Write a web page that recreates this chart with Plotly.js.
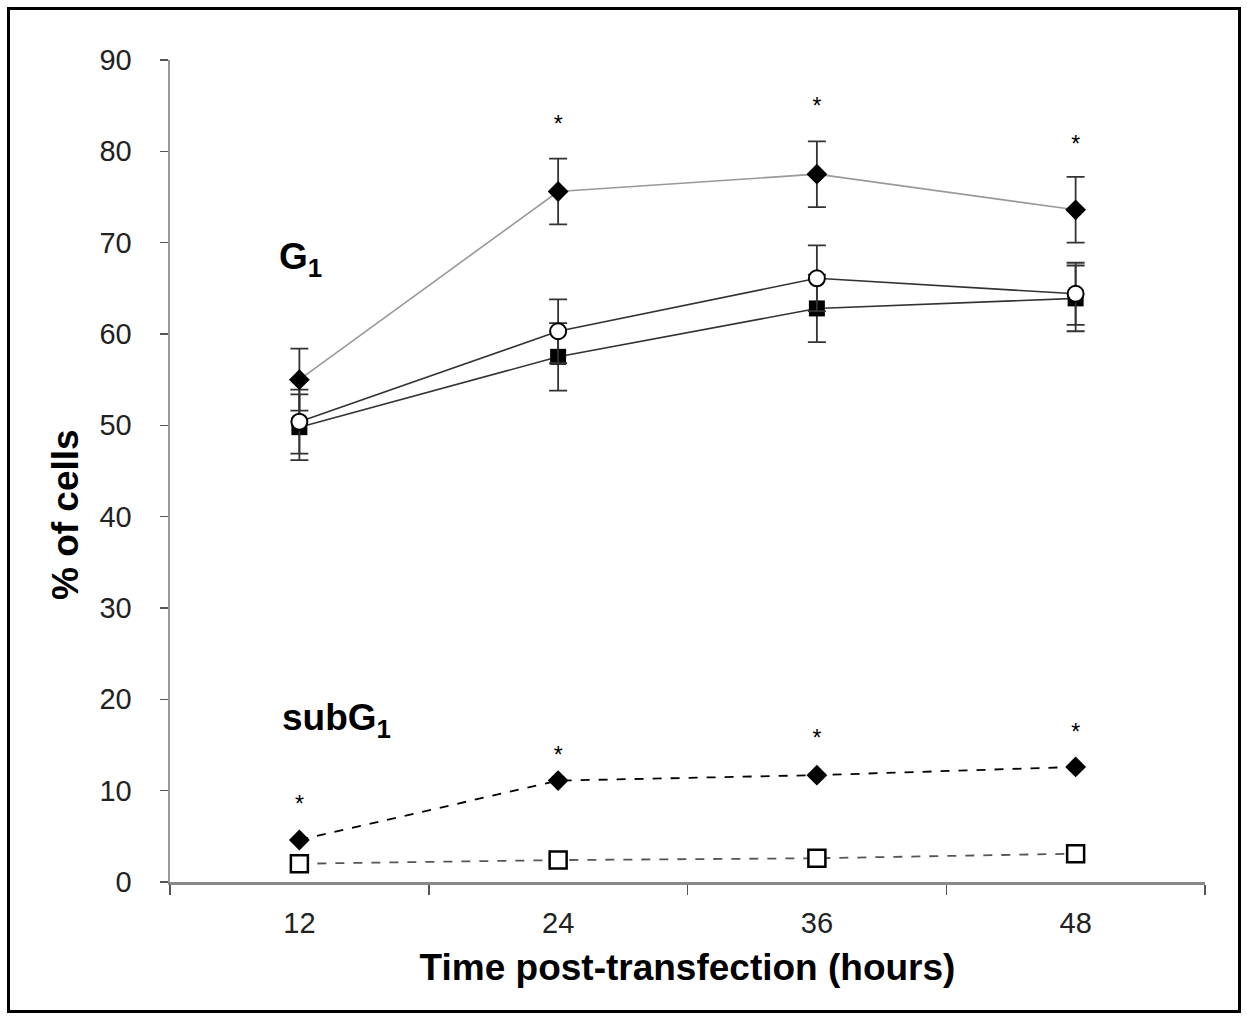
<!DOCTYPE html>
<html><head><meta charset="utf-8">
<script src="https://cdn.plot.ly/plotly-3.0.1.min.js"></script>
<style>
html,body{margin:0;padding:0;background:#fff;}
#wrap{position:relative;width:1247px;height:1017px;}
#chart{width:1247px;height:1017px;}
#frame{position:absolute;left:7px;top:7px;width:1228px;height:1000px;border:3px solid #000;pointer-events:none;}
</style></head>
<body><div id="wrap"><div id="chart"></div><div id="frame"></div></div>
<script>
const categories = ["12", "24", "36", "48"];
// G1 phase
const g1Diamond = [55.0, 75.6, 77.5, 73.6];
const g1DiamondErr = [3.4, 3.6, 3.6, 3.6];
const g1Circle = [50.4, 60.3, 66.1, 64.4];
const g1CircleErr = [3.5, 3.5, 3.6, 3.4];
const g1Square = [49.8, 57.5, 62.8, 63.9];
const g1SquareErr = [3.6, 3.7, 3.7, 3.6];
// subG1 phase
const subDiamond = [4.6, 11.1, 11.7, 12.6];
const subSquare = [2.0, 2.4, 2.6, 3.1];
const subCircle = [2.1, 2.4, 2.6, 3.1];
// significance markers
const starG1 = [null, 82.7, 84.7, 80.6];
const starSub = [8.3, 13.7, 15.5, 16.2];

const ebar = (arr) => ({type:'data', array:arr, visible:true, color:'#333', thickness:1.8, width:9});

const traces = [
  {x:categories, y:g1Square, error_y:ebar(g1SquareErr), mode:'lines+markers',
   line:{color:'#333', width:1.6}, marker:{symbol:'square', size:16, color:'#000'}},
  {x:categories, y:g1Circle, error_y:ebar(g1CircleErr), mode:'lines+markers',
   line:{color:'#333', width:1.6}, marker:{symbol:'circle', size:16, color:'#fff', line:{color:'#000', width:2}}},
  {x:categories, y:g1Diamond, error_y:ebar(g1DiamondErr), mode:'lines+markers',
   line:{color:'#999', width:1.6}, marker:{symbol:'diamond', size:16, color:'#000'}},
  {x:categories, y:subSquare, mode:'lines+markers',
   line:{color:'#555', width:1.8, dash:'dash'}, marker:{symbol:'square', size:17, color:'#fff', line:{color:'#000', width:2.5}}},
  {x:categories, y:subCircle, mode:'markers',
   marker:{symbol:'circle', size:12, color:'#fff', line:{color:'#fff', width:0}}},
  {x:categories, y:subDiamond, mode:'lines+markers',
   line:{color:'#000', width:1.8, dash:'dash'}, marker:{symbol:'diamond', size:16, color:'#000'}},
  {x:categories, y:starG1, mode:'text', text:categories.map(()=>'*'),
   textfont:{family:'Liberation Sans, Arial, sans-serif', size:23, color:'#000'}, cliponaxis:false},
  {x:categories, y:starSub, mode:'text', text:categories.map(()=>'*'),
   textfont:{family:'Liberation Sans, Arial, sans-serif', size:23, color:'#000'}, cliponaxis:false}
];

const layout = {
  width:1247, height:1017,
  margin:{l:170, r:42, t:60, b:135},
  showlegend:false,
  paper_bgcolor:'#fff', plot_bgcolor:'#fff',
  font:{family:'Liberation Sans, Arial, sans-serif', color:'#222'},
  xaxis:{type:'category', range:[-0.5,3.5], tickson:'boundaries', ticks:'outside', ticklen:10, tickwidth:1.5, tickcolor:'#555',
    showline:true, linecolor:'#888', linewidth:2.5, showgrid:false, zeroline:false,
    tickfont:{size:29, color:'#222'}, ticklabelstandoff:14,
    title:{text:'<b>Time post-transfection (hours)</b>', font:{size:37, color:'#000'}, standoff:16}},
  yaxis:{range:[0,90], dtick:10, ticks:'outside', ticklen:8, tickwidth:1.5, tickcolor:'#555',
    showline:true, linecolor:'#999', linewidth:2.5, showgrid:false, zeroline:false,
    tickfont:{size:29, color:'#222'}, ticklabelstandoff:22},
  annotations:[
    {x:-0.101, y:0.447, xref:'paper', yref:'paper', text:'<b>% of cells</b>', textangle:-90, showarrow:false,
     xanchor:'center', yanchor:'middle', font:{size:37, color:'#000'}},
    {x:0, y:68.2, xref:'x', yref:'y', text:'<b>G<sub>1</sub></b>', showarrow:false, xanchor:'left', xshift:-22,
     font:{size:37, color:'#000'}},
    {x:0, y:17.7, xref:'x', yref:'y', text:'<b>subG<sub>1</sub></b>', showarrow:false, xanchor:'left', xshift:-19,
     font:{size:37, color:'#000'}}
  ]
};

Plotly.newPlot('chart', traces, layout, {staticPlot:true, displayModeBar:false});
</script></body></html>
